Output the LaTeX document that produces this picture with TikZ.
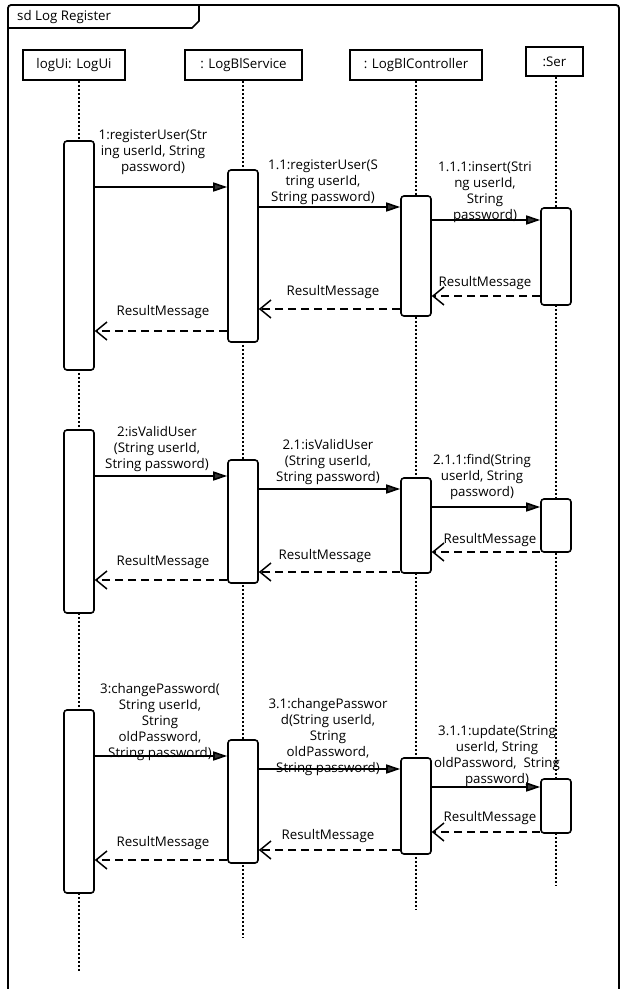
\documentclass[tikz,border=0pt]{standalone}
\usepackage{fontspec}
\setmainfont{Open Sans}
\usetikzlibrary{arrows.meta}
\tikzset{
  every node/.style={font=\fontsize{13.3}{16}\selectfont},
  head/.style={draw, line width=1.8pt, fill=white, minimum height=30pt, inner sep=0pt},
  act/.style={draw, line width=1.6pt, fill=white, rounded corners=3pt, minimum width=30pt, inner sep=0pt},
  life/.style={line width=1.8pt, dash pattern=on 2pt off 2pt},
  msg/.style={line width=1.6pt, -{Triangle[length=14pt,width=9pt,fill=black!80]}},
  ret/.style={line width=1.6pt, dash pattern=on 8pt off 5pt, -{Straight Barb[length=11pt,width=18pt,line width=1.5pt]}},
  lbl/.style={align=center, inner sep=0pt},
  frameline/.style={line width=1.8pt, rounded corners=3pt}
}
\begin{document}
\begin{tikzpicture}[x=1pt,y=-1pt]
\useasboundingbox[fill=white] (0,0) rectangle (623,989);
% frame
\draw[frameline] (8,989) -- (8,5) -- (619,5) -- (619,989);
\draw[line width=1.6pt] (8,28) -- (192,28) -- (199,21) -- (199,5);
\node[anchor=west, inner sep=0pt] (title) at (17,17) {sd Log Register};
% heads
\node[head, minimum width=102pt] (H1) at (74,65) {logUi: LogUi};
\node[head, minimum width=117pt] (H2) at (243.5,65) {: LogBlService};
\node[head, minimum width=132pt] (H3) at (416,65) {: LogBlController};
\node[head, minimum width=57pt, minimum height=29pt] (H4) at (554.5,61.5) {:Ser};
% lifeline ends
\coordinate (E1) at (79,972);
\coordinate (E2) at (243,937);
\coordinate (E3) at (416,910);
\coordinate (E4) at (556,885);
\draw[life] (H1.south -| E1) -- (E1);
\draw[life] (H2.south -| E2) -- (E2);
\draw[life] (H3.south -| E3) -- (E3);
\draw[life] (H4.south -| E4) -- (E4);
% activations block 1
\node[act, minimum height=229pt] (A1) at (79,255.5) {};
\node[act, minimum height=172pt] (B1) at (243,256) {};
\node[act, minimum height=120pt] (C1) at (416,256) {};
\node[act, minimum height=97pt] (D1) at (556,256.5) {};
% block 2
\node[act, minimum height=183pt] (A2) at (79,521.5) {};
\node[act, minimum height=123pt] (B2) at (243,521.5) {};
\node[act, minimum height=95pt] (C2) at (416,525.5) {};
\node[act, minimum height=53pt] (D2) at (556,525.5) {};
% block 3
\node[act, minimum height=183pt] (A3) at (79,801.5) {};
\node[act, minimum height=123pt] (B3) at (243,801.5) {};
\node[act, minimum height=96pt] (C3) at (416,806) {};
\node[act, minimum height=54pt] (D3) at (556,806) {};
% message levels
\coordinate (y1) at (0,187);   \coordinate (y11) at (0,207);  \coordinate (y111) at (0,220);
\coordinate (r1a) at (0,296);  \coordinate (r1b) at (0,309);  \coordinate (r1c) at (0,331);
\coordinate (y2) at (0,476);   \coordinate (y21) at (0,489);  \coordinate (y211) at (0,507);
\coordinate (r2a) at (0,552);  \coordinate (r2b) at (0,572);  \coordinate (r2c) at (0,580);
\coordinate (y3) at (0,756);   \coordinate (y31) at (0,769);  \coordinate (y311) at (0,787);
\coordinate (r3a) at (0,832);  \coordinate (r3b) at (0,850);  \coordinate (r3c) at (0,860);
% block 1 messages
\draw[msg] (A1.east |- y1) -- (B1.west |- y1);
\draw[msg] (B1.east |- y11) -- (C1.west |- y11);
\draw[msg] (C1.east |- y111) -- (D1.west |- y111);
\draw[ret] (D1.west |- r1a) -- (C1.east |- r1a);
\draw[ret] (C1.west |- r1b) -- (B1.east |- r1b);
\draw[ret] (B1.west |- r1c) -- (A1.east |- r1c);
\node[lbl] (l1) at (153,152.5) {1:registerUser(Str\\ing userId, String\\password)};
\node[lbl] (l11) at (323,182) {1.1:registerUser(S\\tring userId,\\String password)};
\node[lbl] (l111) at (485,192) {1.1.1:insert(Stri\\ng userId,\\String\\password)};
\node[lbl] (lr1a) at (485,283) {ResultMessage};
\node[lbl] (lr1b) at (333,292) {ResultMessage};
\node[lbl] (lr1c) at (163,312) {ResultMessage};
% block 2 messages
\draw[msg] (A2.east |- y2) -- (B2.west |- y2);
\draw[msg] (B2.east |- y21) -- (C2.west |- y21);
\draw[msg] (C2.east |- y211) -- (D2.west |- y211);
\draw[ret] (D2.west |- r2a) -- (C2.east |- r2a);
\draw[ret] (C2.west |- r2b) -- (B2.east |- r2b);
\draw[ret] (B2.west |- r2c) -- (A2.east |- r2c);
\node[lbl] (l2) at (157,449) {2:isValidUser\\(String userId,\\String password)};
\node[lbl] (l21) at (328,462) {2.1:isValidUser\\(String userId,\\String password)};
\node[lbl] (l211) at (482,477.5) {2.1.1:find(String\\userId, String\\password)};
\node[lbl] (lr2a) at (490,540) {ResultMessage};
\node[lbl] (lr2b) at (325,556) {ResultMessage};
\node[lbl] (lr2c) at (163,562) {ResultMessage};
% block 3 messages
\draw[msg] (A3.east |- y3) -- (B3.west |- y3);
\draw[msg] (B3.east |- y31) -- (C3.west |- y31);
\draw[msg] (C3.east |- y311) -- (D3.west |- y311);
\draw[ret] (D3.west |- r3a) -- (C3.east |- r3a);
\draw[ret] (C3.west |- r3b) -- (B3.east |- r3b);
\draw[ret] (B3.west |- r3c) -- (A3.east |- r3c);
\node[lbl] (l3) at (160,722.5) {3:changePassword(\\String userId,\\String\\oldPassword,\\String password)};
\node[lbl] (l31) at (328,737) {3.1:changePasswor\\d(String userId,\\String\\oldPassword,\\String password)};
\node[lbl] (l311) at (497,756) {3.1.1:update(String\\userId, String\\oldPassword,\ \ String\\password)};
\node[lbl] (lr3a) at (490,818) {ResultMessage};
\node[lbl] (lr3b) at (328,836) {ResultMessage};
\node[lbl] (lr3c) at (163,843) {ResultMessage};
\end{tikzpicture}
\end{document}
